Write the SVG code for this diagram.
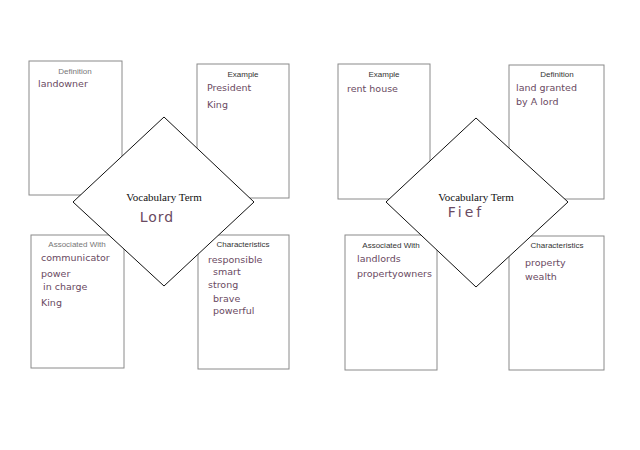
<svg xmlns="http://www.w3.org/2000/svg" width="640" height="450" viewBox="0 0 640 450">
<style>
.box{fill:#fff;stroke:#8a8a8a;stroke-width:1}
.dia{fill:#fff;stroke:#111;stroke-width:1}
.lbl{font-family:"Liberation Sans",Arial,sans-serif;font-size:8px;fill:#333;text-anchor:middle}
.faint{fill:#777}
.vt{font-family:"Liberation Serif","Times New Roman",serif;font-size:11px;fill:#111;text-anchor:middle}
.hw{font-family:"DejaVu Sans",sans-serif;font-size:9.5px;fill:#6a4a62}
.term{font-family:"DejaVu Sans",sans-serif;font-size:14px;fill:#6a4a62;text-anchor:middle}
</style>
<rect width="640" height="450" fill="#fff"/>
<g id="lord-definition">
<rect class="box" x="29" y="61" width="93" height="134"/>
<text class="lbl faint" x="75" y="74">Definition</text>
<text class="hw" x="38" y="87" font-size="10.5">landowner</text>
</g>
<g id="lord-example">
<rect class="box" x="197" y="64" width="92" height="134"/>
<text class="lbl" x="243" y="77">Example</text>
<text class="hw" x="207" y="91">President</text>
<text class="hw" x="207" y="108">King</text>
</g>
<g id="lord-associated">
<rect class="box" x="31" y="235" width="93" height="133"/>
<text class="lbl faint" x="77" y="247">Associated With</text>
<text class="hw" x="41" y="261">communicator</text>
<text class="hw" x="41" y="277">power</text>
<text class="hw" x="43" y="290">in charge</text>
<text class="hw" x="41" y="306">King</text>
</g>
<g id="lord-characteristics">
<rect class="box" x="198" y="235" width="91" height="134"/>
<text class="lbl" x="243" y="247">Characteristics</text>
<text class="hw" x="208" y="263">responsible</text>
<text class="hw" x="213" y="275">smart</text>
<text class="hw" x="208" y="288">strong</text>
<text class="hw" x="213" y="302">brave</text>
<text class="hw" x="213" y="314">powerful</text>
</g>
<g id="lord-term">
<polygon class="dia" points="164,117 254,202 164,286 73,202"/>
<text class="vt" x="164" y="201">Vocabulary Term</text>
<text class="term" x="157" y="222" letter-spacing="1">Lord</text>
</g>
<g id="fief-example">
<rect class="box" x="338" y="64" width="92" height="135"/>
<text class="lbl" x="384" y="77">Example</text>
<text class="hw" x="347" y="92" font-size="8.5">rent house</text>
</g>
<g id="fief-definition">
<rect class="box" x="509" y="65" width="95" height="134"/>
<text class="lbl" x="557" y="77">Definition</text>
<text class="hw" x="516" y="91">land granted</text>
<text class="hw" x="516" y="105">by A lord</text>
</g>
<g id="fief-associated">
<rect class="box" x="345" y="235" width="92" height="135"/>
<text class="lbl" x="391" y="248">Associated With</text>
<text class="hw" x="357" y="262" font-size="8.5">landlords</text>
<text class="hw" x="357" y="277" font-size="8.5">propertyowners</text>
</g>
<g id="fief-characteristics">
<rect class="box" x="509" y="236" width="95" height="134"/>
<text class="lbl" x="557" y="248">Characteristics</text>
<text class="hw" x="525" y="266">property</text>
<text class="hw" x="525" y="280">wealth</text>
</g>
<g id="fief-term">
<polygon class="dia" points="476,118 568,202 476,287 386,202"/>
<text class="vt" x="476" y="201">Vocabulary Term</text>
<text class="term" x="466" y="217" font-size="15" letter-spacing="3">Fief</text>
</g>
</svg>
